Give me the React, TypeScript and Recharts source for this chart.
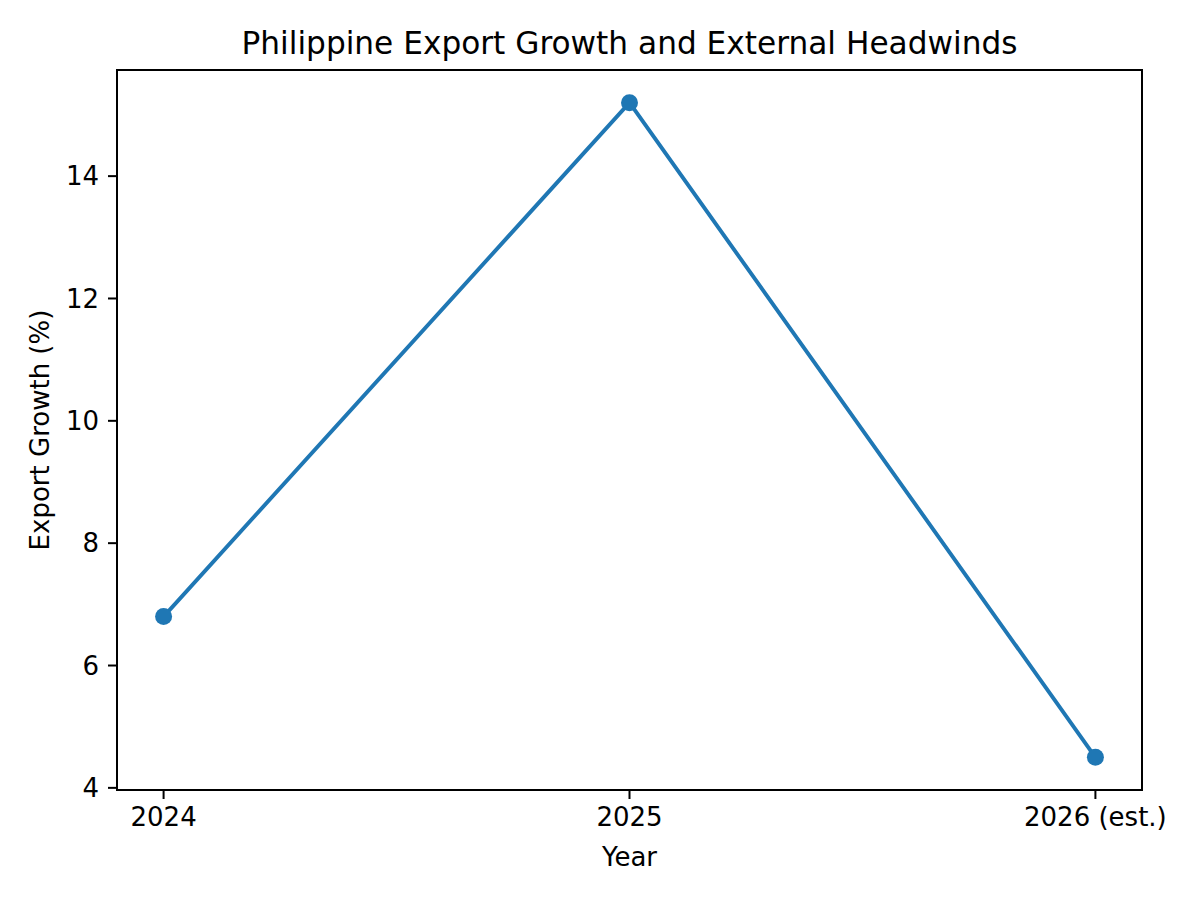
import { LineChart, Line, XAxis, YAxis, ReferenceArea } from 'recharts';

const years = ['2024', '2025', '2026 (est.)'];
const exportGrowth = [6.8, 15.2, 4.5];
const yTicks = [4, 6, 8, 10, 12, 14];

const data = years.map((year, i) => ({ idx: i, year, growth: exportGrowth[i] }));

const FONT = '"DejaVu Sans", sans-serif';
const BLUE = '#1f77b4';
const X_DOMAIN: [number, number] = [-0.1, 2.1];
const Y_DOMAIN: [number, number] = [3.965, 15.735];

export default function App() {
  return (
    <div
      style={{
        position: 'fixed',
        top: 0,
        left: 0,
        width: 1200,
        height: 900,
        background: '#fff',
        fontFamily: FONT,
      }}
    >
      <LineChart
        width={1200}
        height={900}
        data={data}
        margin={{ top: 70, right: 58, left: 0, bottom: 0 }}
      >
        <XAxis
          dataKey="idx"
          type="number"
          domain={X_DOMAIN}
          ticks={[0, 1, 2]}
          tickFormatter={(v) => years[v]}
          height={110}
          tickSize={9}
          tickMargin={9}
          axisLine={{ stroke: '#000', strokeWidth: 2 }}
          tickLine={{ stroke: '#000', strokeWidth: 2 }}
          tick={{ fill: '#000', fontSize: 26, fontFamily: FONT }}
          allowDataOverflow
        />
        <YAxis
          type="number"
          domain={Y_DOMAIN}
          ticks={yTicks}
          width={117}
          tickSize={9}
          tickMargin={9}
          axisLine={{ stroke: '#000', strokeWidth: 2 }}
          tickLine={{ stroke: '#000', strokeWidth: 2 }}
          tick={{ fill: '#000', fontSize: 26, fontFamily: FONT }}
          allowDataOverflow
        />
        <ReferenceArea
          x1={X_DOMAIN[0]}
          x2={X_DOMAIN[1]}
          y1={Y_DOMAIN[0]}
          y2={Y_DOMAIN[1]}
          stroke="#000"
          strokeWidth={2}
          fill="none"
          fillOpacity={0}
        />
        <Line
          type="linear"
          dataKey="growth"
          stroke={BLUE}
          strokeWidth={3.9}
          dot={{ r: 8.5, fill: BLUE, stroke: 'none' }}
          activeDot={false}
          isAnimationActive={false}
        />
      </LineChart>
      <div
        style={{
          position: 'absolute',
          top: 28,
          left: 117,
          width: 1025,
          textAlign: 'center',
          fontSize: 31.2,
          lineHeight: 1,
          whiteSpace: 'nowrap',
        }}
      >
        Philippine Export Growth and External Headwinds
      </div>
      <div
        style={{
          position: 'absolute',
          top: 844,
          left: 117,
          width: 1025,
          textAlign: 'center',
          fontSize: 26,
          lineHeight: 1,
        }}
      >
        Year
      </div>
      <div
        style={{
          position: 'absolute',
          top: 430 - 13,
          left: 40 - 200,
          width: 400,
          height: 26,
          textAlign: 'center',
          fontSize: 26,
          lineHeight: 1,
          transform: 'rotate(-90deg)',
          whiteSpace: 'nowrap',
        }}
      >
        Export Growth (%)
      </div>
    </div>
  );
}
